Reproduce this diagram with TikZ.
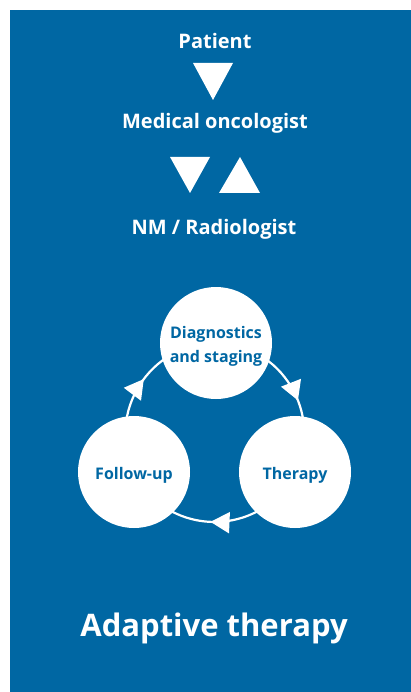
\documentclass[tikz,border=0pt]{standalone}
\usepackage{fontspec}
\setmainfont{Open Sans}
\usetikzlibrary{arrows.meta, decorations.markings}
\definecolor{philblue}{RGB}{0,103,163}
\pgfdeclarelayer{background}
\pgfsetlayers{background,main}
\tikzset{
    chain text/.style={anchor=base, text=white, font=\bfseries\fontsize{20}{24}\selectfont},
    stage/.style={circle, fill=white, minimum size=112pt, inner sep=0pt},
    stage text/.style={align=center, yshift=-3pt, text=philblue, font=\bfseries\fontsize{16}{24}\selectfont},
    ring/.style={draw=white, line width=2.2pt},
    ring arrow/.style={postaction={decorate}, decoration={markings,
        mark=at position #1 with {\arrow{Triangle[length=19pt, width=21pt]}}}},
}
\begin{document}
\begin{tikzpicture}[x=1pt, y=-1pt]
            \useasboundingbox (0, 0) rectangle (411, 692);

            % the referral chain
            \node[chain text] (patient) at (215, 49) {Patient};
            \node[chain text] (oncologist) at (215, 129) {Medical oncologist};
            \node[chain text] (radiologist) at (214, 235) {NM / Radiologist};

            \fill[white] (193, 63) -- (233, 63) -- (213, 100) -- cycle;
            \fill[white] (170, 157) -- (210, 157) -- (190, 193) -- cycle;
            \fill[white] (219, 193) -- (260, 193) -- (240, 157) -- cycle;

            % the therapy cycle
            \node[stage, label={[stage text]center:Diagnostics\\and staging}] (diag) at (216, 343) {};
            \node[stage, label={[stage text]center:Therapy}] (ther) at (295, 472) {};
            \node[stage, label={[stage text]center:Follow-up}] (follow) at (134, 472) {};

            \node[anchor=base, text=white, font=\bfseries\fontsize{31}{36}\selectfont]
            (adaptive) at (214, 636) {Adaptive therapy};

            \begin{pgfonlayer}{background}
            \fill[philblue] (10, 10) rectangle (411, 692);
            \foreach \a/\b/\bend/\loose/\p in {diag/ther/58/1.1/0.59, ther/follow/64/1.18/0.52, follow/diag/58/1.1/0.54}{
                \draw[ring, ring arrow=\p] (\a.center) to[bend left=\bend, looseness=\loose] (\b.center);
            }
            \end{pgfonlayer}
\end{tikzpicture}
\end{document}
